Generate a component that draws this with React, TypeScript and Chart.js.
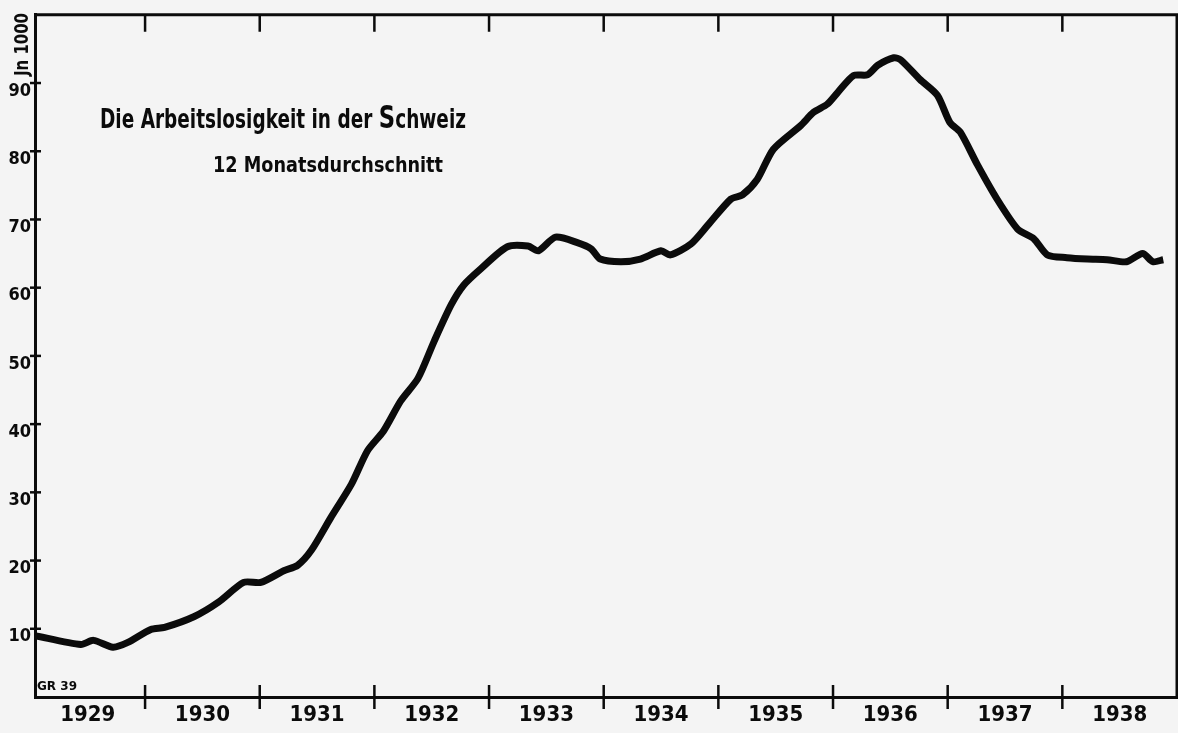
import React, { useEffect, useRef } from "react";
import { Chart, registerables } from "chart.js";

Chart.register(...registerables);

// ---- data ----
const YEARS = [1929, 1930, 1931, 1932, 1933, 1934, 1935, 1936, 1937, 1938];
const Y_TICKS = [10, 20, 30, 40, 50, 60, 70, 80, 90];

// time (decimal year) of each reading
const TIME = [
  1929.04, 1929.44, 1929.55, 1929.72, 1929.85, 1930.05, 1930.17, 1930.43, 1930.64, 1930.86,
  1931.01, 1931.21, 1931.33, 1931.45, 1931.62, 1931.8, 1931.94, 1932.08, 1932.23, 1932.38,
  1932.52, 1932.67, 1932.78, 1932.93, 1933.16, 1933.34, 1933.43, 1933.58, 1933.77, 1933.89,
  1933.97, 1934.15, 1934.32, 1934.5, 1934.58, 1934.76, 1934.91, 1935.11, 1935.21, 1935.34,
  1935.48, 1935.72, 1935.83, 1935.95, 1936.04, 1936.18, 1936.3, 1936.39, 1936.53, 1936.59,
  1936.76, 1936.91, 1937.02, 1937.11, 1937.26, 1937.43, 1937.61, 1937.75, 1937.87, 1938.04,
  1938.22, 1938.39, 1938.56, 1938.7, 1938.79, 1938.88,
];

// unemployed, in thousands (12-month average)
const UNEMPLOYED = [
  9.0, 7.7, 8.3, 7.3, 8.0, 9.9, 10.2, 11.8, 13.9, 16.8,
  16.8, 18.5, 19.3, 21.5, 26.3, 31.2, 36.1, 39.0, 43.4, 46.7,
  52.1, 57.5, 60.4, 62.8, 66.0, 66.1, 65.4, 67.4, 66.6, 65.7,
  64.2, 63.8, 64.2, 65.4, 64.8, 66.4, 69.2, 73.0, 73.6, 75.9,
  80.3, 83.8, 85.7, 86.9, 88.6, 91.1, 91.2, 92.6, 93.7, 93.4,
  90.5, 88.2, 84.2, 82.8, 78.0, 73.0, 68.6, 67.2, 64.8, 64.4,
  64.2, 64.1, 63.8, 65.0, 63.8, 64.1,
];

const TITLE_MAIN = "Die Arbeitslosigkeit in der ";
const TITLE_S = "S";
const TITLE_END = "chweiz";
const SUBTITLE = "12 Monatsdurchschnitt";
const UNIT = "Jn 1000";
const SIGNATURE = "GR 39";

const INK = "#0b0b0b";
const PAPER = "#f4f4f4";
const FONT = '"DejaVu Sans Condensed", "DejaVu Sans", sans-serif';

function drawSqueezed(
  ctx: CanvasRenderingContext2D,
  parts: { text: string; size: number }[],
  x: number,
  y: number,
  targetWidth: number
) {
  let total = 0;
  for (const p of parts) {
    ctx.font = `bold ${p.size}px ${FONT}`;
    total += ctx.measureText(p.text).width;
  }
  const k = targetWidth / total;
  ctx.save();
  ctx.translate(x, y);
  ctx.scale(k, 1);
  let cx = 0;
  for (const p of parts) {
    ctx.font = `bold ${p.size}px ${FONT}`;
    ctx.fillText(p.text, cx, 0);
    cx += ctx.measureText(p.text).width;
  }
  ctx.restore();
}

const paperPlugin = {
  id: "paperPlugin",
  beforeDraw(chart: any) {
    const { ctx, width, height } = chart;
    ctx.save();
    ctx.fillStyle = PAPER;
    ctx.fillRect(0, 0, width, height);
    ctx.restore();
  },
  afterDraw(chart: any) {
    const { ctx, chartArea: a } = chart;
    const xs = chart.scales.x;
    const ys = chart.scales.y;
    ctx.save();
    ctx.strokeStyle = INK;
    ctx.fillStyle = INK;
    ctx.lineCap = "butt";
    // frame top + right
    ctx.lineWidth = 3;
    ctx.beginPath();
    ctx.moveTo(a.left - 1, a.top);
    ctx.lineTo(a.right, a.top);
    ctx.lineTo(a.right, a.bottom + 1);
    ctx.stroke();
    // year boundary ticks crossing the axis, and ticks hanging from the top
    ctx.lineWidth = 2.5;
    for (const yr of YEARS.slice(1)) {
      const px = xs.getPixelForValue(yr);
      ctx.beginPath();
      ctx.moveTo(px, a.bottom - 12);
      ctx.lineTo(px, a.bottom + 12);
      ctx.moveTo(px, a.top);
      ctx.lineTo(px, a.top + 17);
      ctx.stroke();
    }
    // y ticks crossing the axis
    for (const v of Y_TICKS) {
      const py = ys.getPixelForValue(v);
      ctx.beginPath();
      ctx.moveTo(a.left - 5, py);
      ctx.lineTo(a.left + 6, py);
      ctx.stroke();
    }
    // texts
    ctx.textBaseline = "alphabetic";
    ctx.textAlign = "left";
    drawSqueezed(
      ctx,
      [
        { text: TITLE_MAIN, size: 26 },
        { text: TITLE_S, size: 32 },
        { text: TITLE_END, size: 26 },
      ],
      100,
      128,
      366
    );
    drawSqueezed(ctx, [{ text: SUBTITLE, size: 22 }], 213, 172, 230);
    drawSqueezed(ctx, [{ text: SIGNATURE, size: 13 }], 37, 690, 40);
    // vertical unit label
    ctx.save();
    ctx.translate(28, 76);
    ctx.rotate(-Math.PI / 2);
    drawSqueezed(ctx, [{ text: UNIT, size: 19 }], 0, 0, 63);
    ctx.restore();
    ctx.restore();
  },
};

export default function App() {
  const ref = useRef<HTMLCanvasElement | null>(null);

  useEffect(() => {
    if (!ref.current) return;
    const chart = new Chart(ref.current, {
      type: "line",
      data: {
        datasets: [
          {
            label: "Arbeitslose (in 1000)",
            data: TIME.map((t, i) => ({ x: t, y: UNEMPLOYED[i] })),
            borderColor: INK,
            borderWidth: 7,
            pointRadius: 0,
            tension: 0.25,
            fill: false,
            borderCapStyle: "butt",
            borderJoinStyle: "round",
          },
        ],
      },
      options: {
        responsive: false,
        animation: false,
        devicePixelRatio: 1,
        layout: { padding: { top: 12, right: 1, left: 0, bottom: 0 } },
        plugins: {
          legend: { display: false },
          tooltip: { enabled: false },
          title: { display: false },
        },
        scales: {
          x: {
            type: "linear",
            min: 1929.04,
            max: 1939,
            grid: { display: false, drawTicks: false },
            border: { display: true, color: INK, width: 3 },
            afterBuildTicks: (scale: any) => {
              scale.ticks = YEARS.map((yr) => ({ value: yr + 0.5 }));
            },
            afterFit: (scale: any) => {
              scale.height = 36;
            },
            ticks: {
              autoSkip: false,
              maxRotation: 0,
              padding: 5,
              color: INK,
              font: { family: FONT, size: 22, weight: "bold" },
              callback: (v: any) => String(Math.floor(Number(v))),
            },
          },
          y: {
            type: "linear",
            min: 0,
            max: 100,
            grid: { display: false, drawTicks: false },
            border: { display: true, color: INK, width: 3 },
            afterFit: (scale: any) => {
              scale.width = 35;
            },
            ticks: {
              stepSize: 10,
              padding: 4,
              labelOffset: 8,
              color: INK,
              font: { family: FONT, size: 18, weight: "bold" },
              callback: (v: any) => (Y_TICKS.includes(Number(v)) ? String(v) : ""),
            },
          },
        },
      },
      plugins: [paperPlugin],
    });
    return () => chart.destroy();
  }, []);

  return (
    <div style={{ position: "absolute", left: 0, top: 0, width: 1178, height: 733, background: PAPER }}>
      <canvas ref={ref} width={1178} height={733} style={{ display: "block" }} />
    </div>
  );
}
